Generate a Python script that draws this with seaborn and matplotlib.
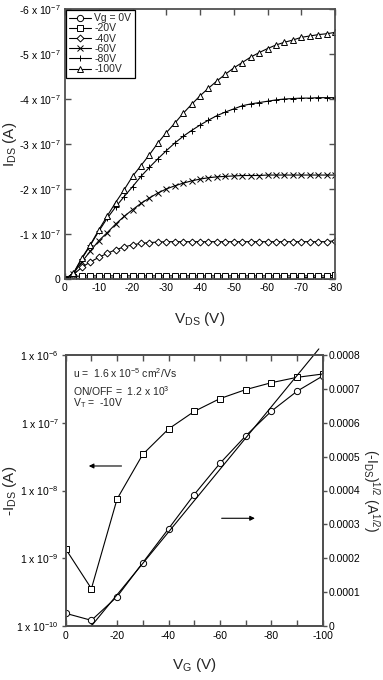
import numpy as np
import pandas as pd
import matplotlib
matplotlib.use('Agg')
import matplotlib.pyplot as plt
from matplotlib.ticker import MultipleLocator, FixedLocator, FuncFormatter, NullLocator
import seaborn as sns

# ---- output characteristics (V_DS sweep, 2.5 V steps), current in units of 1e-7 A (negative)
vds = [0, -2.5, -5, -7.5, -10, -12.5, -15, -17.5, -20, -22.5, -25, -27.5, -30, -32.5,
       -35, -37.5, -40, -42.5, -45, -47.5, -50, -52.5, -55, -57.5, -60, -62.5, -65,
       -67.5, -70, -72.5, -75, -77.5, -80]
ids_0v = [0, 0.01, 0.02, 0.02, 0.02, 0.02, 0.02, 0.02, 0.02, 0.02, 0.02, 0.02, 0.02, 0.02,
          0.02, 0.02, 0.02, 0.02, 0.02, 0.02, 0.02, 0.02, 0.02, 0.02, 0.02, 0.02, 0.02,
          0.03, 0.03, 0.03, 0.03, 0.03, 0.03]
ids_20v = [0, 0.05, 0.07, 0.07, 0.07, 0.07, 0.07, 0.07, 0.07, 0.07, 0.07, 0.07, 0.07, 0.07,
           0.07, 0.07, 0.07, 0.07, 0.07, 0.07, 0.07, 0.07, 0.07, 0.07, 0.07, 0.07, 0.07,
           0.07, 0.07, 0.07, 0.07, 0.07, 0.08]
ids_40v = [0, 0.10, 0.26, 0.38, 0.48, 0.57, 0.65, 0.71, 0.76, 0.79, 0.81, 0.82, 0.83, 0.83,
           0.83, 0.83, 0.83, 0.83, 0.83, 0.83, 0.83, 0.83, 0.83, 0.83, 0.83, 0.83, 0.83,
           0.83, 0.83, 0.83, 0.83, 0.83, 0.85]
ids_60v = [0, 0.12, 0.38, 0.62, 0.85, 1.03, 1.22, 1.39, 1.54, 1.68, 1.80, 1.91, 2.00, 2.07,
           2.13, 2.18, 2.22, 2.25, 2.27, 2.28, 2.29, 2.30, 2.30, 2.30, 2.31, 2.31, 2.31,
           2.31, 2.31, 2.31, 2.31, 2.31, 2.31]
ids_80v = [0, 0.12, 0.45, 0.75, 1.06, 1.35, 1.60, 1.83, 2.05, 2.28, 2.48, 2.67, 2.85, 3.02,
           3.17, 3.30, 3.42, 3.53, 3.63, 3.71, 3.78, 3.85, 3.89, 3.92, 3.95, 3.98, 4.00,
           4.01, 4.02, 4.02, 4.03, 4.03, 4.03]
ids_100v = [0, 0.13, 0.47, 0.76, 1.09, 1.40, 1.70, 1.98, 2.28, 2.52, 2.76, 3.02, 3.25, 3.46,
            3.68, 3.88, 4.07, 4.24, 4.40, 4.55, 4.69, 4.81, 4.93, 5.03, 5.12, 5.20, 5.26,
            5.31, 5.37, 5.40, 5.43, 5.45, 5.48]
curve_labels = ['Vg = 0V', '-20V', '-40V', '-60V', '-80V', '-100V']
curve_markers = ['o', 's', 'D', 'x', '+', '^']

# ---- transfer characteristics
vg = [0, -10, -20, -30, -40, -50, -60, -70, -80, -90, -100]
ids_log = [1.37e-9, 3.56e-10, 7.5e-9, 3.42e-8, 8.09e-8, 1.47e-7, 2.27e-7, 3.08e-7,
           3.9e-7, 4.68e-7, 5.24e-7]
ids_sqrt = [3.74e-5, 1.67e-5, 8.66e-5, 1.87e-4, 2.87e-4, 3.88e-4, 4.80e-4, 5.61e-4,
            6.34e-4, 6.93e-4, 7.38e-4]
fit_vg = [-10, -98.5]
fit_sqrt = [0, 0.000818]

sns.set_theme(style='ticks')
plt.rcParams['font.family'] = ['Liberation Sans', 'DejaVu Sans']
plt.rcParams['mathtext.default'] = 'regular'
plt.rcParams['axes.edgecolor'] = '#505050'
plt.rcParams['axes.linewidth'] = 1.3
plt.rcParams['xtick.color'] = '#505050'
plt.rcParams['ytick.color'] = '#505050'
plt.rcParams['xtick.labelcolor'] = 'black'
plt.rcParams['ytick.labelcolor'] = 'black'

fig = plt.figure(figsize=(3.83, 6.8), dpi=100)
ax1 = fig.add_axes([65 / 383, 1 - 279 / 680, 270 / 383, 270 / 680])
ax2 = fig.add_axes([65.7 / 383, 1 - 626 / 680, 257 / 383, 271 / 680])

mk = dict(color='black', markerfacecolor='white', markeredgecolor='black',
          markeredgewidth=0.7, linewidth=0.8)

# top panel
curves = [ids_0v, ids_20v, ids_40v, ids_60v, ids_80v, ids_100v]
for lab, m, vals in zip(curve_labels, curve_markers, curves):
    df = pd.DataFrame({'vds': vds, 'ids': np.array(vals) * -1e-7})
    ms = 3.5 if m == 'D' else 4.5
    sns.lineplot(data=df, x='vds', y='ids', marker=m, markersize=ms, label=lab,
                 ax=ax1, estimator=None, sort=False, **mk)

ax1.set_xlim(0, -80)
ax1.set_ylim(0, -6e-7)
ax1.xaxis.set_major_locator(MultipleLocator(10))
ax1.yaxis.set_major_locator(MultipleLocator(1e-7))
ax1.xaxis.set_major_formatter(FuncFormatter(lambda v, p: f'{v:.0f}' if v != 0 else '0'))
ax1.yaxis.set_major_formatter(FuncFormatter(
    lambda v, p: '0' if abs(v) < 1e-12 else f'{v / 1e-7:.0f} x 10$^{{-7}}$'))
ax1.tick_params(direction='in', top=True, right=True, length=4, width=1, labelsize=7.5, pad=3)
ax1.set_xlabel('V$_{DS}$ (V)', fontsize=11)
ax1.set_ylabel('I$_{DS}$ (A)', fontsize=11)
ax1.xaxis.set_label_coords(0.5, -0.115)
ax1.yaxis.set_label_coords(-0.17, 0.5)
leg = ax1.legend(loc='upper left', bbox_to_anchor=(0, 1), borderaxespad=0.05,
                 fontsize=7.5, frameon=True, fancybox=False, edgecolor='black',
                 framealpha=1, handlelength=2.1, handletextpad=0.3, labelspacing=0.02,
                 borderpad=0.35, numpoints=1)
leg.get_frame().set_linewidth(0.9)

# bottom panel
ax3 = ax2.twinx()
sns.lineplot(x=vg, y=ids_log, marker='s', markersize=4.5, ax=ax2, estimator=None,
             sort=False, **mk)
sns.lineplot(x=vg, y=ids_sqrt, marker='o', markersize=4.5, ax=ax3, estimator=None,
             sort=False, **mk)
fit = sns.lineplot(x=fit_vg, y=fit_sqrt, ax=ax3, color='black', linewidth=0.8,
                   estimator=None)
fit.lines[-1].set_clip_on(False)

ax2.set_yscale('log')
ax2.set_xlim(0, -100)
ax2.set_ylim(1e-10, 1e-6)
ax3.set_ylim(0, 0.0008)
ax2.yaxis.set_major_locator(FixedLocator([1e-10, 1e-9, 1e-8, 1e-7, 1e-6]))
ax2.yaxis.set_minor_locator(NullLocator())
ax2.yaxis.set_major_formatter(FuncFormatter(
    lambda v, p: f'1 x 10$^{{{int(round(np.log10(v)))}}}$'))
ax2.xaxis.set_major_locator(MultipleLocator(20))
ax2.xaxis.set_minor_locator(MultipleLocator(10))
ax2.xaxis.set_major_formatter(FuncFormatter(lambda v, p: f'{v:.0f}' if v != 0 else '0'))
ax3.yaxis.set_major_locator(MultipleLocator(0.0001))
ax3.yaxis.set_major_formatter(FuncFormatter(lambda v, p: '0' if abs(v) < 1e-9 else f'{v:.4f}'))
ax2.tick_params(axis='x', which='both', direction='in', top=True, length=4, width=1,
                labelsize=7.5)
ax2.tick_params(axis='y', direction='out', length=3, width=1, labelsize=7.5, pad=2)
ax3.tick_params(axis='y', direction='out', length=3, width=1, labelsize=7.5, pad=1)
ax2.set_xlabel('V$_G$ (V)', fontsize=11)
ax2.set_ylabel('-I$_{DS}$ (A)', fontsize=11)
ax3.set_ylabel('(-I$_{DS}$)$^{1/2}$ (A$^{1/2}$)', fontsize=10, rotation=270,
               va='bottom')
ax2.xaxis.set_label_coords(0.5, -0.11)
ax2.yaxis.set_label_coords(-0.18, 0.5)
ax3.yaxis.set_label_coords(1.148, 0.5)
for a in (ax1, ax2, ax3):
    a.grid(False)

# annotations
txt = dict(transform=ax2.transAxes, fontsize=7.5, ha='left', va='center')
ax2.text(0.027, 0.934, 'u =  1.6 x 10$^{-5}$ cm$^2$/Vs', **txt)
ax2.text(0.027, 0.868, 'ON/OFF =  1.2 x 10$^3$', **txt)
ax2.text(0.027, 0.822, 'V$_T$ =  -10V', **txt)
arrow = dict(arrowstyle='-|>', color='black', lw=0.8, mutation_scale=7)
ax2.annotate('', xy=(-7.9, 2.3e-8), xytext=(-22.8, 2.3e-8), arrowprops=arrow)
ax3.annotate('', xy=(-74.7, 3.18e-4), xytext=(-59.6, 3.18e-4), arrowprops=arrow)

plt.savefig('out.png', dpi=100)
